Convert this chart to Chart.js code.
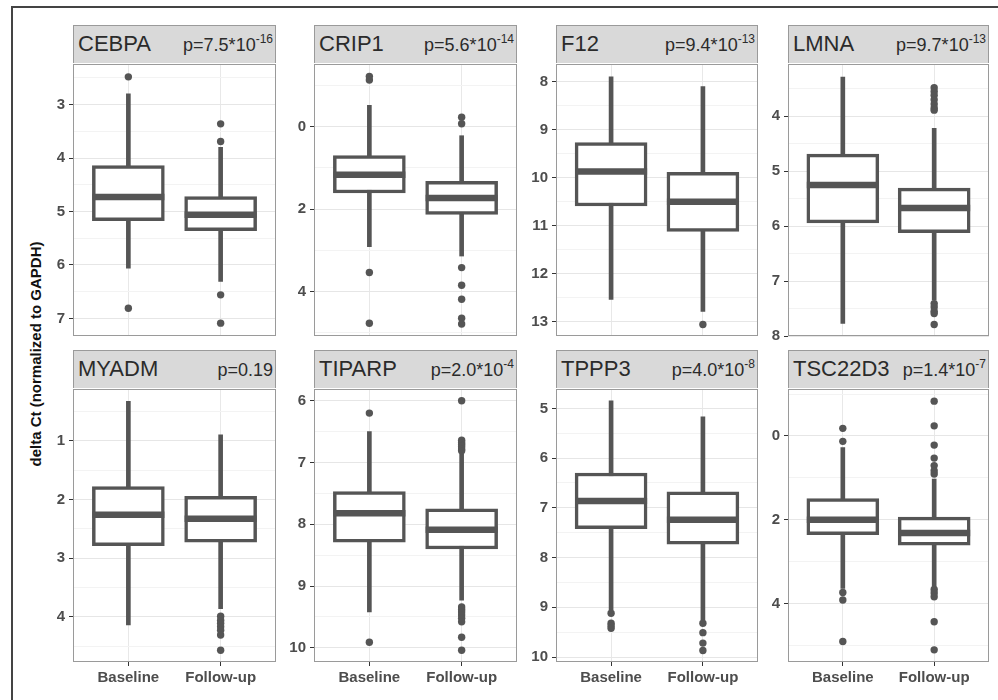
<!DOCTYPE html>
<html>
<head>
<meta charset="utf-8">
<script src="https://cdn.jsdelivr.net/npm/chart.js@4.4.0/dist/chart.umd.min.js"></script>
<style>
  body {
    margin: 0;
    background: #fff;
    width: 998px;
    height: 700px;
    overflow: hidden;
    position: relative;
    font-family: "Liberation Sans", Arial, sans-serif;
  }
  #frame {
    position: absolute;
    left: 11px;
    top: 6px;
    width: 1000px;
    height: 700px;
    border-left: 2px solid #444;
    border-top: 2px solid #444;
  }
  canvas {
    position: absolute;
  }
  .strip {
    position: absolute;
    box-sizing: border-box;
    background: #d9d9d9;
    border: 1px solid #9a9a9a;
    border-bottom: none;
    display: flex;
    justify-content: space-between;
    align-items: baseline;
    line-height: 36px;
    padding: 0 2px 0 4px;
    color: #2b2b2b;
    white-space: nowrap;
  }
  .strip .gene {
    font-size: 22px;
  }
  .strip .pval {
    font-size: 18px;
  }
  .strip sup {
    font-size: 12px;
    vertical-align: 8px;
    line-height: 0;
  }
  #ytitle {
    position: absolute;
    left: 35px;
    top: 354px;
    transform: translate(-50%, -50%) rotate(-90deg);
    font-weight: bold;
    font-size: 15px;
    color: #111;
    white-space: nowrap;
  }
</style>
</head>
<body>
<div id="frame"></div>
<div id="ytitle">delta Ct (normalized to GAPDH)</div>

<script>
// Facets, p-values and groups
const genes = ["CEBPA", "CRIP1", "F12", "LMNA", "MYADM", "TIPARP", "TPPP3", "TSC22D3"];
const pValues = ["7.5", "5.6", "9.4", "9.7", "0.19", "2.0", "4.0", "1.4"];
const pExponents = ["-16", "-14", "-13", "-13", "", "-4", "-8", "-7"];
const groups = ["Baseline", "Follow-up"];

// Box stats per gene: [whisker low, Q1, median, Q3, whisker high]
const baselineStats = [
  [2.80, 4.14, 4.73, 5.17, 6.06],
  [-0.52, 0.70, 1.17, 1.61, 2.91],
  [7.90, 9.27, 9.87, 10.59, 12.54],
  [3.29, 4.69, 5.25, 5.94, 7.77],
  [0.33, 1.78, 2.26, 2.79, 4.14],
  [6.50, 7.47, 7.82, 8.29, 9.42],
  [4.85, 6.30, 6.86, 7.42, 9.05],
  [0.28, 1.50, 2.00, 2.36, 3.64],
];
const followupStats = [
  [3.80, 4.72, 5.06, 5.36, 6.31],
  [0.22, 1.33, 1.73, 2.13, 3.14],
  [8.10, 9.89, 10.50, 11.12, 12.79],
  [4.22, 5.31, 5.67, 6.12, 7.35],
  [0.90, 1.95, 2.33, 2.73, 3.86],
  [6.86, 7.75, 8.09, 8.40, 9.23],
  [5.17, 6.68, 7.24, 7.73, 9.25],
  [1.03, 1.94, 2.32, 2.61, 3.60],
];

// Outliers
const baselineOutliers = [
  [2.48, 6.81],
  [-1.22, -1.13, 3.54, 4.77],
  [],
  [],
  [],
  [6.20, 9.91],
  [9.12, 9.32, 9.37, 9.42],
  [-0.18, 0.13, 3.74, 3.92, 4.91],
];
const followupOutliers = [
  [3.36, 3.69, 6.56, 7.09],
  [-0.23, -0.07, 3.42, 3.85, 4.19, 4.65, 4.79],
  [13.06],
  [3.48, 3.55, 3.62, 3.70, 3.78, 3.85, 3.89, 7.41, 7.47, 7.55, 7.59, 7.79],
  [3.99, 4.06, 4.11, 4.17, 4.23, 4.31, 4.57],
  [6.00, 6.64, 6.68, 6.71, 6.74, 6.78, 6.81, 9.34, 9.38, 9.42, 9.47, 9.52, 9.58, 9.83, 10.04],
  [9.32, 9.51, 9.72, 9.87],
  [-0.83, -0.24, 0.22, 0.53, 0.71, 0.83, 0.91, 3.67, 3.75, 3.84, 4.44, 5.11],
];

// Y axes (reversed): tick labels and limits
const yTicks = [
  [3, 4, 5, 6, 7],
  [0, 2, 4],
  [8, 9, 10, 11, 12, 13],
  [4, 5, 6, 7, 8],
  [1, 2, 3, 4],
  [6, 7, 8, 9, 10],
  [5, 6, 7, 8, 9, 10],
  [0, 2, 4],
];
const yLimits = [
  [2.24, 7.33],
  [-1.52, 5.08],
  [7.63, 13.30],
  [3.05, 8.0],
  [0.12, 4.77],
  [5.81, 10.23],
  [4.61, 10.10],
  [-1.12, 5.40],
];

// Panel layout
const colLeft = [73, 314, 556, 788];
const colWidth = [203, 203, 202, 201];
const rowTop = [63, 388];
const plotHeight = 274;
const stripHeight = 38;

const dark = "#555";
const fontFamily = "'Liberation Sans', Arial, sans-serif";

// Grey border round each panel
const panelBorder = {
  id: "panelBorder",
  afterDraw(chart) {
    const a = chart.chartArea;
    const ctx = chart.ctx;
    ctx.save();
    ctx.strokeStyle = "#9a9a9a";
    ctx.lineWidth = 1;
    ctx.strokeRect(a.left + 0.5, a.top + 0.5, a.right - a.left - 1, a.bottom - a.top - 1);
    ctx.restore();
  },
};

genes.forEach(function (gene, i) {
  let row = Math.floor(i / 4);
  let col = i % 4;

  // strip
  let strip = document.createElement("div");
  strip.className = "strip";
  strip.style.left = colLeft[col] + "px";
  strip.style.top = rowTop[row] - stripHeight + "px";
  strip.style.width = colWidth[col] + "px";
  strip.style.height = stripHeight + "px";
  let pText = "p=" + pValues[i];
  if (pExponents[i]) pText += "*10<sup>" + pExponents[i] + "</sup>";
  strip.innerHTML = '<span class="gene">' + gene + '</span><span class="pval">' + pText + "</span>";
  document.body.appendChild(strip);

  // canvas
  let padTop = 12;
  let padRight = 12;
  let padBottom = row ? 2 : 12;
  let yAxisW = 50;
  let xAxisH = row ? 30 : 0;

  let canvas = document.createElement("canvas");
  canvas.width = colWidth[col] + yAxisW + padRight;
  canvas.height = plotHeight + padTop + xAxisH + padBottom;
  canvas.style.left = colLeft[col] - yAxisW + "px";
  canvas.style.top = rowTop[row] - padTop + "px";
  document.body.appendChild(canvas);

  let stats = [baselineStats[i], followupStats[i]];
  let outliers = baselineOutliers[i]
    .map((v) => ({ x: 1, y: v }))
    .concat(followupOutliers[i].map((v) => ({ x: 2, y: v })));

  let majors = yTicks[i];
  let [yMin, yMax] = yLimits[i];
  let allTicks = [];
  majors.forEach((v, k) => {
    let step = k < majors.length - 1 ? majors[k + 1] - v : v - majors[k - 1];
    allTicks.push(v - step / 2, v);
    if (k === majors.length - 1) allTicks.push(v + step / 2);
  });
  allTicks = allTicks.filter((v) => v >= yMin && v <= yMax);

  new Chart(canvas.getContext("2d"), {
    type: "bar",
    data: {
      datasets: [
        {
          type: "line",
          data: outliers,
          showLine: false,
          pointRadius: 3.7,
          pointHoverRadius: 3.7,
          pointBackgroundColor: dark,
          pointBorderWidth: 0,
          order: 1,
        },
        {
          type: "line",
          data: stats.map((s, k) => ({ x: k + 1, y: s[2] })),
          showLine: false,
          pointStyle: "line",
          pointRadius: 36,
          pointHoverRadius: 36,
          pointBorderWidth: 6.5,
          pointBorderColor: dark,
          order: 2,
        },
        {
          data: stats.map((s, k) => ({ x: k + 1, y: [s[1], s[3]] })),
          backgroundColor: "#fff",
          borderColor: dark,
          borderWidth: 3.5,
          borderSkipped: false,
          barThickness: 72,
          grouped: false,
          order: 3,
        },
        {
          data: stats.map((s, k) => ({ x: k + 1, y: [s[0], s[4]] })),
          backgroundColor: dark,
          borderWidth: 0,
          barThickness: 4,
          grouped: false,
          order: 4,
        },
      ],
    },
    options: {
      responsive: false,
      animation: false,
      events: [],
      layout: {
        autoPadding: false,
        padding: { left: 0, top: padTop, right: padRight, bottom: padBottom },
      },
      plugins: { legend: { display: false }, tooltip: { enabled: false } },
      scales: {
        x: {
          type: "linear",
          min: 0.4,
          max: 2.6,
          offset: false,
          afterBuildTicks: (s) => {
            s.ticks = [{ value: 1 }, { value: 2 }];
          },
          afterFit: (s) => {
            s.height = xAxisH;
          },
          grid: {
            offset: false,
            color: "#e8e8e8",
            tickColor: "#333",
            tickLength: 4,
            drawTicks: row === 1,
          },
          border: { display: false },
          ticks: {
            display: row === 1,
            padding: 3,
            color: "#4d4d4d",
            font: { family: fontFamily, size: 15, weight: "bold" },
            callback: (v) => groups[v - 1],
          },
        },
        y: {
          type: "linear",
          reverse: true,
          beginAtZero: false,
          min: yMin,
          max: yMax,
          afterBuildTicks: (s) => {
            s.ticks = allTicks.map((v) => ({ value: v }));
          },
          afterFit: (s) => {
            s.width = yAxisW;
          },
          grid: {
            color: (ctx) => (majors.includes(ctx.tick.value) ? "#e6e6e6" : "#f3f3f3"),
            tickColor: (ctx) => (majors.includes(ctx.tick.value) ? "#333" : "rgba(0,0,0,0)"),
            tickLength: 4,
          },
          border: { display: false },
          ticks: {
            autoSkip: false,
            padding: 4,
            color: "#4d4d4d",
            font: { family: fontFamily, size: 15, weight: "bold" },
            callback: (v) => (majors.includes(v) ? v : ""),
          },
        },
      },
    },
    plugins: [panelBorder],
  });
});
</script>
</body>
</html>
